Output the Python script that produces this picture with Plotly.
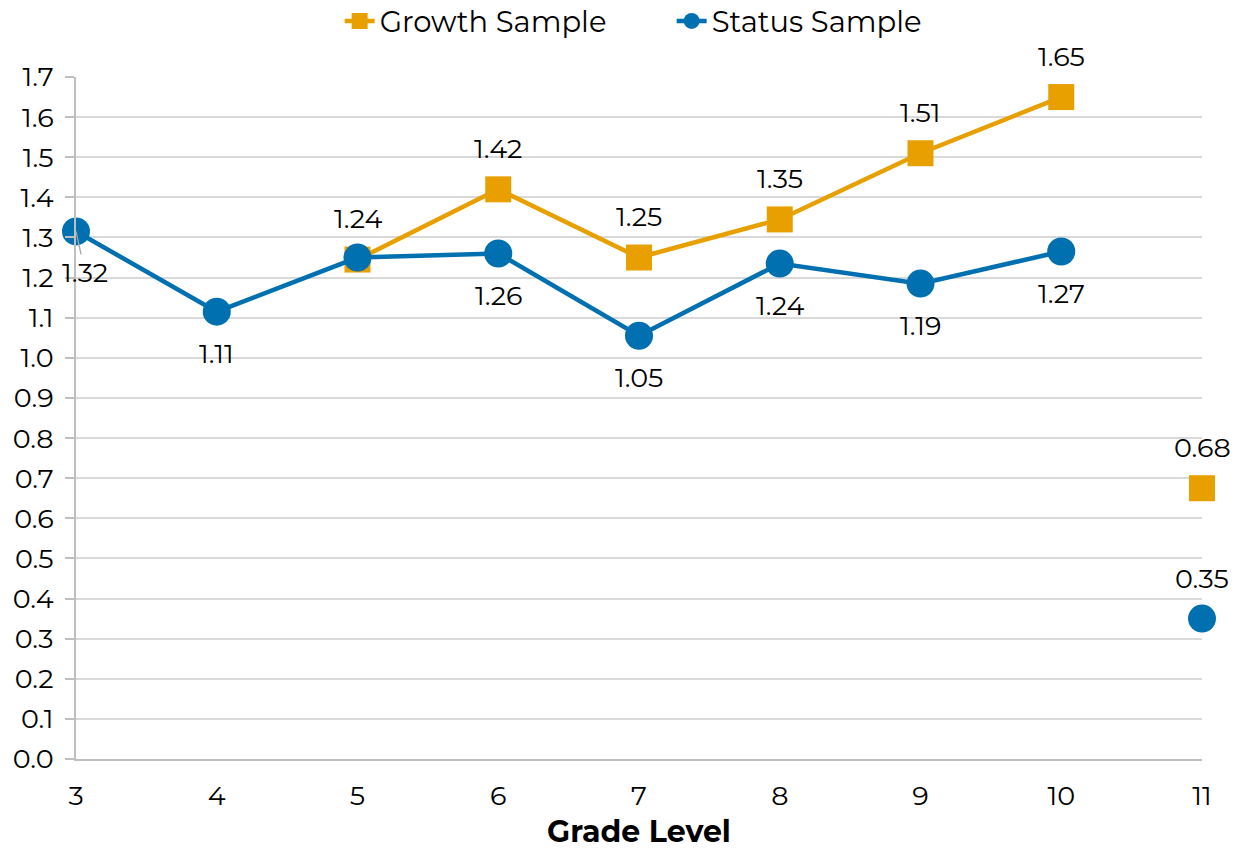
import plotly.graph_objects as go

# Grade levels and sample values
grades = [3, 4, 5, 6, 7, 8, 9, 10, 11]
growth = [None, None, 1.245, 1.42, 1.25, 1.345, 1.51, 1.65, 0.675]
growth_labels = ["", "", "1.24", "1.42", "1.25", "1.35", "1.51", "1.65", "0.68"]
status = [1.315, 1.115, 1.25, 1.26, 1.055, 1.235, 1.185, 1.265, 0.35]
status_labels = ["1.32", "1.11", "", "1.26", "1.05", "1.24", "1.19", "1.27", "0.35"]

GOLD = "#E8A000"
BLUE = "#0070B0"
FONT = "Montserrat, Open Sans, sans-serif"


def with_gap(vals):
    # grade 11 is not connected to the rest of the line
    return vals[:-1] + [None] + vals[-1:]


x_gap = with_gap(grades)

fig = go.Figure()
fig.add_trace(go.Scatter(
    x=x_gap, y=with_gap(growth), name="Growth Sample", mode="lines+markers",
    line=dict(color=GOLD, width=4.5),
    marker=dict(symbol="square", size=26, color=GOLD),
    cliponaxis=False,
))
fig.add_trace(go.Scatter(
    x=x_gap, y=with_gap(status), name="Status Sample", mode="lines+markers",
    line=dict(color=BLUE, width=4.5),
    marker=dict(symbol="circle", size=28, color=BLUE),
    cliponaxis=False,
))

# data labels: growth above, status below (grade 11 status above)
for g, v, t in zip(grades, growth, growth_labels):
    if v is not None and t:
        fig.add_annotation(x=g, y=v, text=t, showarrow=False, yshift=41)
for g, v, t in zip(grades, status, status_labels):
    if not t:
        continue
    if g == 11:
        fig.add_annotation(x=g, y=v, text=t, showarrow=False, yshift=40)
    elif g == 3:
        # moved label with a thin leader line back to the point
        fig.add_annotation(x=g, y=v, text=t, showarrow=True, arrowhead=0,
                           ax=9, ay=41, arrowcolor="#A6A6A6", arrowwidth=1.3)
    else:
        fig.add_annotation(x=g, y=v, text=t, showarrow=False, yshift=-42)

# page body adds an 8px margin, so the figure is 8px smaller each way
fig.update_layout(
    width=1232, height=842,
    margin=dict(l=68, r=38, t=69, b=91, autoexpand=False),
    paper_bgcolor="white", plot_bgcolor="white",
    font=dict(family=FONT, size=27, color="black"),
    legend=dict(orientation="h", x=0.529, xanchor="center", y=1.082, yanchor="middle",
                font=dict(size=29), tracegroupgap=0, entrywidth=287),
    showlegend=True,
)
fig.update_xaxes(
    range=[3, 11], dtick=1, tick0=3, showgrid=False, zeroline=False,
    showline=True, linecolor="#BFBFBF", linewidth=2, ticks="",
    ticklabelstandoff=12, tickfont=dict(size=27), automargin=False,
    title=dict(text="<b>Grade Level</b>", font=dict(size=30), standoff=20),
)
fig.update_yaxes(
    range=[0, 1.7], dtick=0.1, tickformat=".1f", showgrid=True,
    gridcolor="#D9D9D9", gridwidth=1.5, zeroline=False,
    showline=True, linecolor="#BFBFBF", linewidth=2,
    ticks="outside", ticklen=9, tickcolor="#BFBFBF", tickwidth=1.5,
    ticklabelstandoff=6, tickfont=dict(size=27), automargin=False,
)

fig.write_html("out.html")
